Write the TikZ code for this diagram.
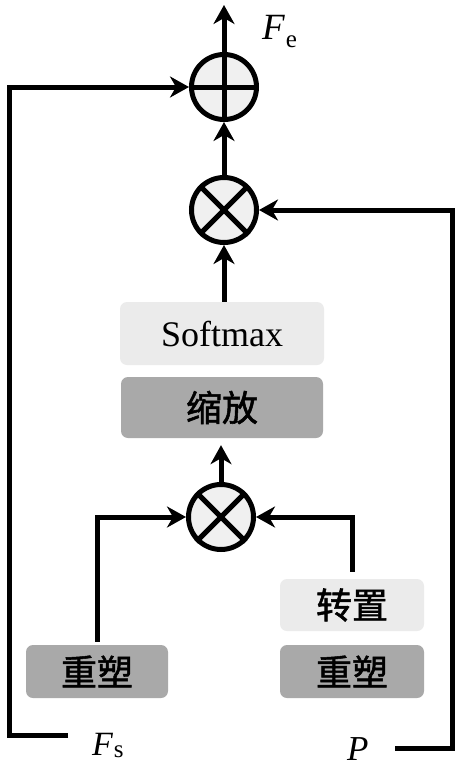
\documentclass[tikz,border=0pt]{standalone}
\usepackage{fontspec}
\setmainfont{Liberation Serif}
\newfontfamily\cjk{Noto Sans CJK SC}[FakeBold=1.5]
\usetikzlibrary{arrows.meta}
\definecolor{opfill}{HTML}{F0F0F0}
\definecolor{lightbox}{HTML}{EBEBEB}
\definecolor{darkbox}{HTML}{A9A9A9}
\newcommand\sublab[3]{{\itshape #1}\kern1pt\raisebox{-#3pt}{\fontsize{25}{25}\selectfont #2}}
\begin{document}
\begin{tikzpicture}[x=1pt,y=-1pt,
  line/.style={line width=5pt},
  arr/.style={line, -{Stealth[length=19pt,width=21pt,inset=6pt]}},
  op/.style={circle, draw, line width=5pt, fill=opfill, minimum size=65pt, inner sep=0pt},
  box/.style={rounded corners=7pt, inner sep=0pt, font=\fontsize{36}{36}\selectfont},
  cbox/.style={box, font=\cjk\fontsize{36}{36}\selectfont},
  lab/.style={font=\fontsize{37}{37}\selectfont, inner sep=0pt, anchor=base west}
]
\useasboundingbox[fill=white] (0,0) rectangle (460,768);

% operators
\node[op] (plus) at (224,87) {};
\draw[line] (plus.north) -- (plus.south) (plus.west) -- (plus.east);
\node[op] (t1) at (224,210) {};
\draw[line] (t1.north west) -- (t1.south east) (t1.north east) -- (t1.south west);
\node[op] (t2) at (221,517) {};
\draw[line] (t2.north west) -- (t2.south east) (t2.north east) -- (t2.south west);

% boxes
\node[box, fill=lightbox, minimum width=204pt, minimum height=63pt] (soft) at (222,333.5) {Softmax};
\node[cbox, fill=darkbox, minimum width=202pt, minimum height=61pt] (scale) at (222,407.5) {缩放};
\node[cbox, fill=lightbox, minimum width=144pt, minimum height=52pt] (tr) at (352,605) {转置};
\node[cbox, fill=darkbox, minimum width=144pt, minimum height=53pt] (rR) at (352,671.5) {重塑};
\node[cbox, fill=darkbox, minimum width=142pt, minimum height=53pt] (rL) at (97,671.5) {重塑};

% labels
\node[lab] (fe) at (262,40) {\sublab{F}{e}{8}};
\node[lab, font=\fontsize{34}{34}\selectfont] (fs) at (92,755) {\sublab{F}{s}{2}};
\node[lab, font=\fontsize{35}{35}\selectfont] (p) at (347,760) {\itshape P};

% coordinates
\coordinate (top) at (224,5);
\coordinate (lstart) at (68,735);
\coordinate (lc) at (9,735);
\coordinate (rstart) at (395,748);
\coordinate (rc) at (452,748);

% connectors
\draw[arr] (plus.north) -- (top);
\draw[arr] (t1.north) -- (plus.south);
\draw[arr] (t1 |- soft.north) -- (t1.south);
\draw[arr, shorten >=7pt] (t2.north) -- (t2 |- scale.south);
\draw[arr] (rL.north) ++(0,-3) |- (t2.west);
\draw[arr, shorten <=7pt] (tr.north) |- (t2.east);
\draw[arr] (lstart) -- (lc) |- (plus.west);
\draw[arr] (rstart) -- (rc) |- (t1.east);
\end{tikzpicture}
\end{document}
